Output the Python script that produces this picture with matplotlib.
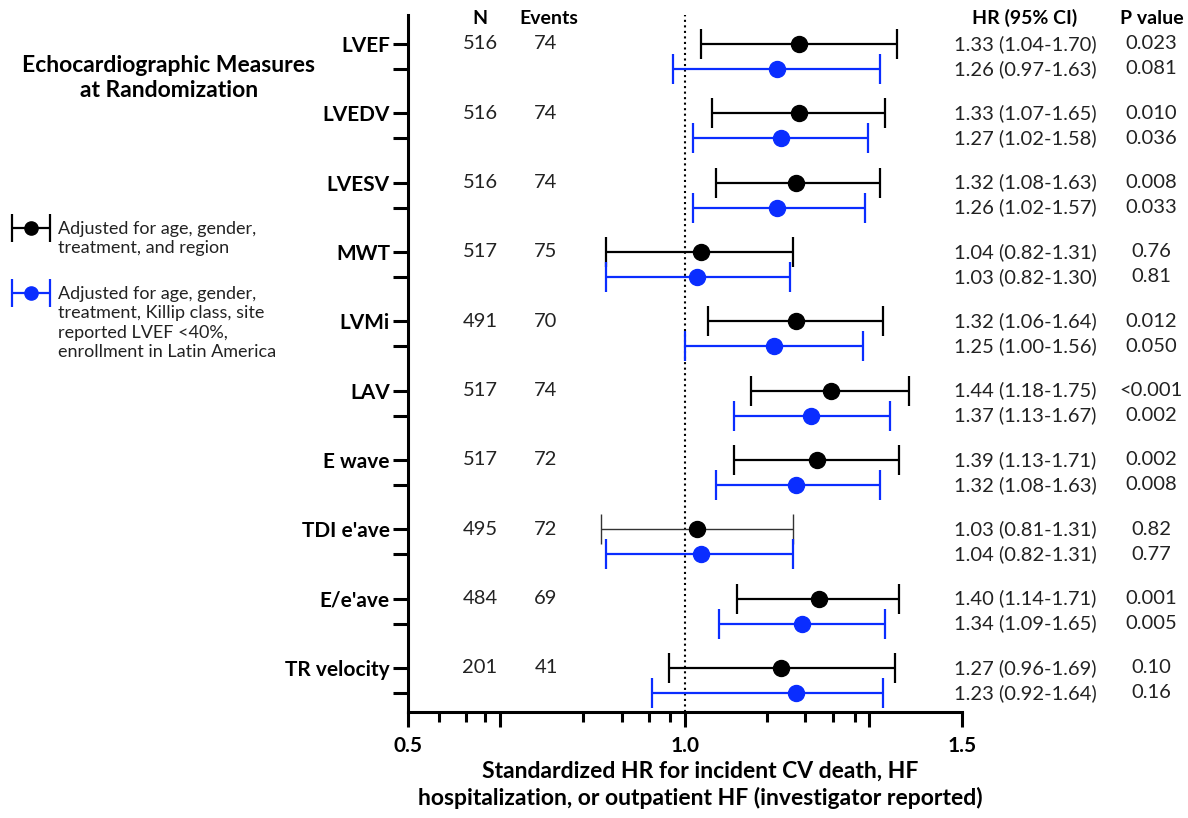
import matplotlib
matplotlib.use('Agg')
import matplotlib.pyplot as plt
import matplotlib.transforms as mtransforms
from matplotlib.ticker import FixedLocator, NullFormatter

plt.rcParams['font.family'] = ['Lato', 'DejaVu Sans']

measures = ['LVEF', 'LVEDV', 'LVESV', 'MWT', 'LVMi', 'LAV', 'E wave', "TDI e'ave", "E/e'ave", 'TR velocity']
n_patients = [516, 516, 516, 517, 491, 517, 517, 495, 484, 201]
n_events = [74, 74, 74, 75, 70, 74, 72, 72, 69, 41]

# model 1: age, gender, treatment, region (black)
hr1 = [1.33, 1.33, 1.32, 1.04, 1.32, 1.44, 1.39, 1.03, 1.40, 1.27]
lo1 = [1.04, 1.07, 1.08, 0.82, 1.06, 1.18, 1.13, 0.81, 1.14, 0.96]
hi1 = [1.70, 1.65, 1.63, 1.31, 1.64, 1.75, 1.71, 1.31, 1.71, 1.69]
ci1_text = ['1.33 (1.04-1.70)', '1.33 (1.07-1.65)', '1.32 (1.08-1.63)', '1.04 (0.82-1.31)', '1.32 (1.06-1.64)',
            '1.44 (1.18-1.75)', '1.39 (1.13-1.71)', '1.03 (0.81-1.31)', '1.40 (1.14-1.71)', '1.27 (0.96-1.69)']
p1_text = ['0.023', '0.010', '0.008', '0.76', '0.012', '<0.001', '0.002', '0.82', '0.001', '0.10']

# model 2: + Killip class, LVEF <40%, Latin America (blue)
# (TR velocity point is drawn where the figure shows it, not at the 1.23 in the table)
hr2 = [1.26, 1.27, 1.26, 1.03, 1.25, 1.37, 1.32, 1.04, 1.34, 1.32]
lo2 = [0.97, 1.02, 1.02, 0.82, 1.00, 1.13, 1.08, 0.82, 1.09, 0.92]
hi2 = [1.63, 1.58, 1.57, 1.30, 1.56, 1.67, 1.63, 1.31, 1.65, 1.64]
ci2_text = ['1.26 (0.97-1.63)', '1.27 (1.02-1.58)', '1.26 (1.02-1.57)', '1.03 (0.82-1.30)', '1.25 (1.00-1.56)',
            '1.37 (1.13-1.67)', '1.32 (1.08-1.63)', '1.04 (0.82-1.31)', '1.34 (1.09-1.65)', '1.23 (0.92-1.64)']
p2_text = ['0.081', '0.036', '0.033', '0.81', '0.050', '0.002', '0.008', '0.77', '0.005', '0.16']

x_ticks = [0.5, 0.63, 1.0, 1.585, 2.0]
x_ticklabels = ['0.5', '', '1.0', '', '1.5']
x_minor = [0.54, 0.578, 0.607, 0.775, 0.854, 0.914, 0.963, 1.229, 1.35, 1.45, 1.53]

BLUE = '#0a2dff'
TXT = '#222222'
W, H = 1188, 818

fig = plt.figure(figsize=(W / 100, H / 100), dpi=100)
ax = fig.add_axes([408 / W, 1 - 712 / H, (962 - 408) / W, (712 - 15) / H])

n = len(measures)
y1 = [-i for i in range(n)]
y2 = [-i - 0.36 for i in range(n)]

for i in range(n):
    thin = measures[i] == "TDI e'ave"
    lw = 1.0 if thin else 1.6
    col = '#333333' if thin else 'black'
    ax.errorbar(hr1[i], y1[i], xerr=[[hr1[i] - lo1[i]], [hi1[i] - hr1[i]]], fmt='none',
                ecolor=col, elinewidth=lw, capsize=11, capthick=lw, zorder=3)
    ax.plot(hr1[i], y1[i], 'o', color='black', ms=11.5, zorder=4)
    ax.errorbar(hr2[i], y2[i], xerr=[[hr2[i] - lo2[i]], [hi2[i] - hr2[i]]], fmt='o', color=BLUE,
                ms=11.5, elinewidth=1.6, capsize=11, capthick=1.6, zorder=3)

ax.axvline(1.0, color='black', ls=':', lw=1.5, zorder=1)

ax.set_xscale('log')
ax.set_xlim(0.5, 2.0)
ax.set_ylim(-9.635, 0.418)
ax.xaxis.set_major_locator(FixedLocator(x_ticks))
ax.set_xticklabels(x_ticklabels)
ax.xaxis.set_minor_locator(FixedLocator(x_minor))
ax.xaxis.set_minor_formatter(NullFormatter())
ax.tick_params(axis='x', which='major', length=11, width=2.2, pad=6, labelsize=15)
ax.tick_params(axis='x', which='minor', length=7, width=2.2)
for lab in ax.get_xticklabels():
    lab.set_fontweight('bold')

yt = sorted(y1 + y2)
ylabels = []
for y in yt:
    ylabels.append(measures[y1.index(y)] if y in y1 else '')
ax.set_yticks(yt)
ax.set_yticklabels(ylabels, fontsize=15, fontweight='bold')
ax.tick_params(axis='y', length=11, width=2.2, pad=2)
ax.yaxis.set_minor_locator(FixedLocator([]))

for s in ['top', 'right']:
    ax.spines[s].set_visible(False)
for s in ['left', 'bottom']:
    ax.spines[s].set_linewidth(2.2)

# table columns to the side of the plot
tr = mtransforms.blended_transform_factory(fig.transFigure, ax.transData)
for i in range(n):
    ax.text(480 / W, y1[i], str(n_patients[i]), transform=tr, ha='center', va='center', fontsize=14.5, color=TXT)
    ax.text(546 / W, y1[i], str(n_events[i]), transform=tr, ha='center', va='center', fontsize=14.5, color=TXT)
    ax.text(1025 / W, y1[i], ci1_text[i], transform=tr, ha='center', va='center', fontsize=14.5, color=TXT)
    ax.text(1025 / W, y2[i], ci2_text[i], transform=tr, ha='center', va='center', fontsize=14.5, color=TXT)
    ax.text(1151 / W, y1[i], p1_text[i], transform=tr, ha='center', va='center', fontsize=14.5, color=TXT)
    ax.text(1151 / W, y2[i], p2_text[i], transform=tr, ha='center', va='center', fontsize=14.5, color=TXT)

for label, xp in [('N', 480), ('Events', 549), ('HR (95% CI)', 1025), ('P value', 1152)]:
    fig.text(xp / W, 1 - 18 / H, label, ha='center', va='center', fontsize=14, fontweight='bold')

fig.text(169 / W, 1 - 78 / H, 'Echocardiographic Measures\nat Randomization', ha='center', va='center',
         fontsize=16.5, fontweight='bold', linespacing=1.22)

fig.text(700 / W, 1 - 785 / H, 'Standardized HR for incident CV death, HF\nhospitalization, or outpatient HF (investigator reported)',
         ha='center', va='center', fontsize=16.5, fontweight='bold', linespacing=1.3)

# legend drawn by hand so the key sits on the first text line
lax = fig.add_axes([0, 0, 1, 1])
lax.set_xlim(0, W)
lax.set_ylim(H, 0)
lax.axis('off')
lax.errorbar(31, 228, xerr=19, fmt='o', color='black', ms=9.5, elinewidth=1.6, capsize=10, capthick=1.6)
lax.errorbar(31, 293, xerr=19, fmt='o', color=BLUE, ms=9.5, elinewidth=1.6, capsize=10, capthick=1.6)
lax.text(58, 221, 'Adjusted for age, gender,\ntreatment, and region', ha='left', va='top',
         fontsize=13, linespacing=1.26, color=TXT)
lax.text(58, 286, 'Adjusted for age, gender,\ntreatment, Killip class, site\nreported LVEF <40%,\nenrollment in Latin America',
         ha='left', va='top', fontsize=13, linespacing=1.26, color=TXT)

fig.savefig('out.png', dpi=100)
